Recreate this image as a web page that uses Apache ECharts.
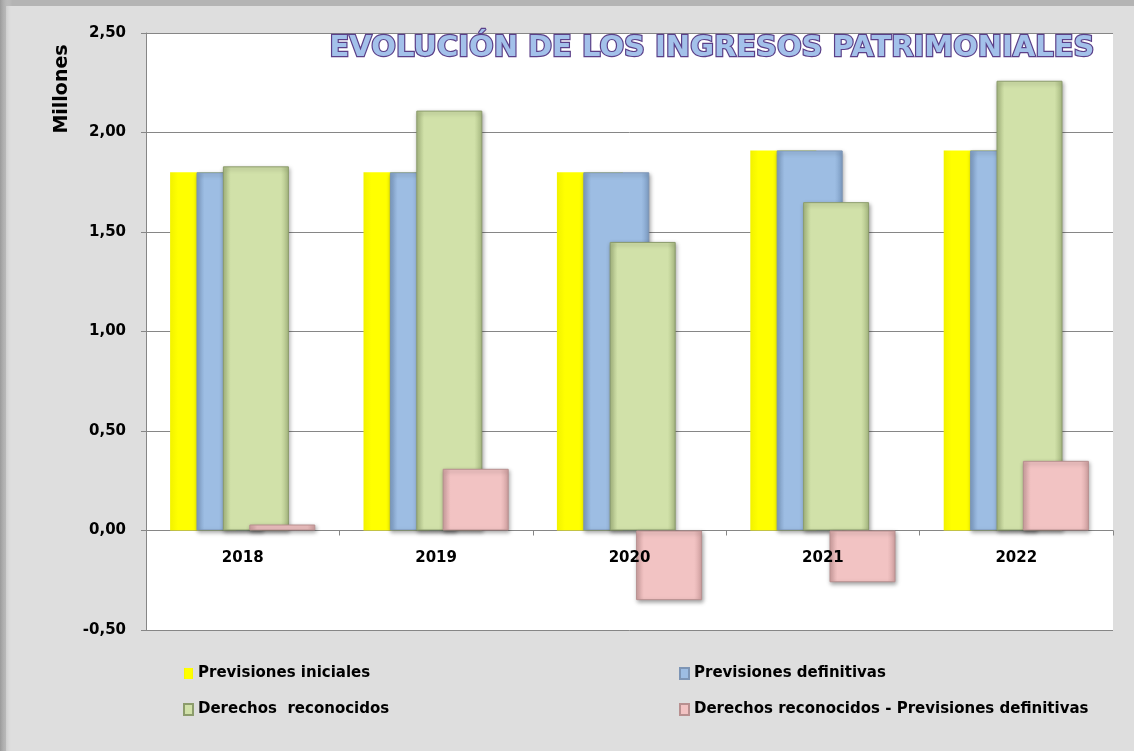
<!DOCTYPE html>
<html>
<head>
<meta charset="utf-8">
<script src="https://cdn.jsdelivr.net/npm/echarts@6/dist/echarts.min.js"></script>
<style>
html,body{margin:0;padding:0;background:#dedede;}
#chart{width:1134px;height:751px;}
</style>
</head>
<body>
<div id="chart"></div>
<script>
const categories = ['2018', '2019', '2020', '2021', '2022'];
const previsionesIniciales = [1.80, 1.80, 1.80, 1.91, 1.91];
const previsionesDefinitivas = [1.80, 1.80, 1.80, 1.91, 1.91];
const derechosReconocidos = [1.83, 2.11, 1.45, 1.65, 2.26];
const diferencia = [0.03, 0.31, -0.35, -0.26, 0.35];
const seriesNames = ['Previsiones iniciales', 'Previsiones definitivas', 'Derechos  reconocidos', 'Derechos reconocidos - Previsiones definitivas'];
const titleText = 'EVOLUCIÓN DE LOS INGRESOS PATRIMONIALES';
const yAxisName = 'Millones';

const FONT = 'DejaVu Sans';

function shade(base, dark) {
  return {
    type: 'linear', x: 0, y: 0, x2: 1, y2: 0,
    colorStops: [
      { offset: 0, color: dark },
      { offset: 0.12, color: base },
      { offset: 0.88, color: base },
      { offset: 1, color: dark }
    ]
  };
}

function barSeries(name, data, base, dark, border, shadow) {
  return {
    name: name,
    type: 'bar',
    data: data,
    barWidth: 66,
    barGap: '-60%',
    itemStyle: {
      color: shade(base, dark),
      borderColor: border,
      borderWidth: border ? 1 : 0,
      shadowColor: shadow ? 'rgba(0,0,0,0.35)' : 'transparent',
      shadowBlur: shadow ? 4 : 0,
      shadowOffsetX: shadow ? 1 : 0,
      shadowOffsetY: shadow ? 2 : 0
    }
  };
}

const chart = echarts.init(document.getElementById('chart'));
const legendText = { fontFamily: FONT, fontWeight: 'bold', fontSize: 15, color: '#000', lineHeight: 14 };

chart.setOption({
  backgroundColor: '#dedede',
  animation: false,
  grid: [
    {
      left: 146, top: 33, right: 21, bottom: 121,
      show: true, backgroundColor: '#ffffff', borderWidth: 0
    },
    {
      left: 146, top: 33, right: 21, bottom: 220,
      show: false
    }
  ],
  legend: [
    {
      data: [seriesNames[0], seriesNames[2]],
      orient: 'vertical', left: 178, top: 661, itemGap: 21,
      itemWidth: 9, itemHeight: 11, icon: 'rect',
      textStyle: legendText
    },
    {
      data: [seriesNames[1], seriesNames[3]],
      orient: 'vertical', left: 674, top: 661, itemGap: 21,
      itemWidth: 9, itemHeight: 11, icon: 'rect',
      textStyle: legendText
    }
  ],
  xAxis: [
    {
      type: 'category',
      data: categories,
      gridIndex: 0,
      axisLine: { onZero: true, lineStyle: { color: '#868686', width: 1 } },
      axisTick: { show: true, alignWithLabel: false, length: 5, lineStyle: { color: '#868686' } },
      axisLabel: { show: false },
      splitLine: { show: false }
    },
    {
      type: 'category',
      data: categories,
      gridIndex: 1,
      z: 10,
      axisLine: { show: false },
      axisTick: { show: false },
      axisLabel: { fontFamily: FONT, fontWeight: 'bold', fontSize: 15, color: '#000', margin: 20 },
      splitLine: { show: false }
    }
  ],
  yAxis: [
    {
      type: 'value',
      gridIndex: 0,
      min: -0.5, max: 2.5, interval: 0.5,
      axisLine: { show: true, lineStyle: { color: '#868686', width: 1 } },
      axisTick: { show: true, length: 5, lineStyle: { color: '#868686' } },
      axisLabel: {
        fontFamily: FONT, fontWeight: 'bold', fontSize: 15, color: '#000', margin: 20,
        formatter: v => v.toFixed(2).replace('.', ',')
      },
      splitLine: { show: true, lineStyle: { color: '#868686', width: 1 } }
    },
    {
      type: 'value',
      gridIndex: 1,
      show: false
    }
  ],
  series: [
    barSeries(seriesNames[0], previsionesIniciales, '#ffff00', '#f2f200', null, false),
    barSeries(seriesNames[1], previsionesDefinitivas, '#9dbde3', '#7f9fc6', '#7d95b5', true),
    barSeries(seriesNames[2], derechosReconocidos, '#d1e1a9', '#a9bb82', '#8c9c6c', true),
    barSeries(seriesNames[3], diferencia, '#f2c3c3', '#d3a3a3', '#b89090', true)
  ],
  graphic: [
    {
      type: 'rect', left: 0, top: 0, z: -1, silent: true,
      shape: { width: 1134, height: 751 },
      style: { fill: 'none', stroke: '#b4b4b4', lineWidth: 6 }
    },
    {
      type: 'rect', left: 0, top: 0, z: -1, silent: true,
      shape: { width: 12, height: 751 },
      style: {
        fill: {
          type: 'linear', x: 0, y: 0, x2: 1, y2: 0,
          colorStops: [{ offset: 0, color: '#9a9a9a' }, { offset: 1, color: 'rgba(222,222,222,0)' }]
        }
      }
    },
    {
      type: 'text', x: 62, y: 89, rotation: Math.PI / 2, z: 20,
      style: {
        text: yAxisName, fontFamily: FONT, fontWeight: 'bold', fontSize: 19,
        fill: '#000', align: 'center', verticalAlign: 'middle'
      }
    },
    {
      type: 'text', x: 712, y: 48, z: 20,
      style: {
        text: titleText, fontFamily: FONT, fontWeight: 'bold', fontSize: 29,
        fill: '#a3c1ea', stroke: '#5b3f88', lineWidth: 2.4,
        align: 'center', verticalAlign: 'middle'
      }
    }
  ]
});
</script>
</body>
</html>
